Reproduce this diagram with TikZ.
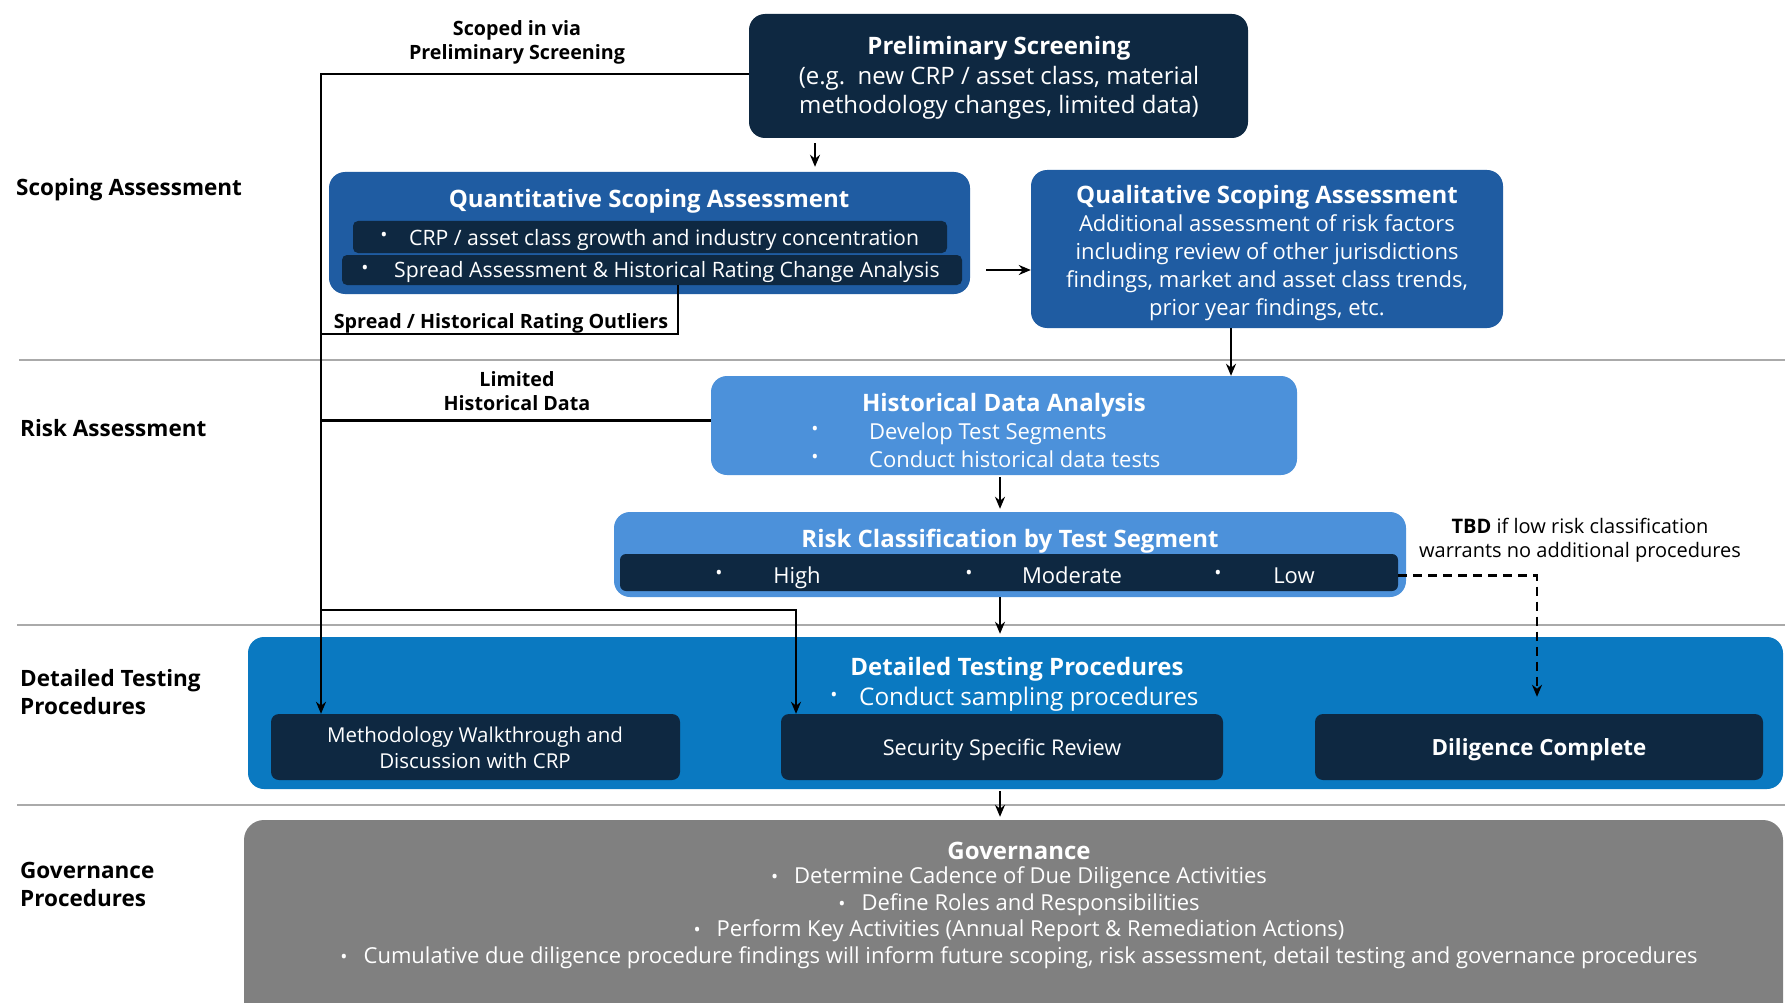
\documentclass[tikz,border=0pt]{standalone}
\usepackage{fontspec}
\setmainfont{Open Sans}
\usetikzlibrary{fit,arrows.meta,calc}
\definecolor{navy}{HTML}{0E2841}
\definecolor{midblue}{HTML}{1F5CA2}
\definecolor{ltblue}{HTML}{4C91DA}
\definecolor{dtblue}{HTML}{0A79C1}
\definecolor{govgray}{HTML}{808080}
\definecolor{sepgray}{HTML}{AAAAAA}
\newcommand\fT{\fontsize{24}{30}\selectfont\bfseries}
\newcommand\fB{\fontsize{22}{28}\selectfont}
\newcommand\fL{\fontsize{22.5}{28}\selectfont\bfseries}
\newcommand\fC{\fontsize{19.7}{24}\selectfont\bfseries}
\newcommand\bul{{\fontsize{19}{19}\selectfont\textbullet}}
\begin{document}
\begin{tikzpicture}[x=1pt,y=-1pt,
  box/.style={rounded corners=16pt, inner sep=0pt, draw=none},
  wt/.style={text=white, inner sep=0pt, align=center},
  one/.style={text height=0.72em, text depth=0.2em, yshift=-5pt},
  conn/.style={line width=2.4pt, black},
  arr/.style={conn, -{Stealth[length=12pt,width=10pt]}},
  dasharr/.style={arr, dash pattern=on 9pt off 6pt},
  sep/.style={line width=2pt, sepgray},
  lbl/.style={font=\fL, anchor=west, align=left, inner sep=0pt, text=black},
  clbl/.style={font=\fC, align=center, inner sep=0pt, text=black}]
\useasboundingbox (0,0) rectangle (1785,1003);
\fill[white] (0,0) rectangle (1785,1003);
\clip (0,0) rectangle (1785,1003);

% separators
\draw[sep] (19,360) -- (1785,360);
\draw[sep] (17,625) -- (1785,625);
\draw[sep] (17,805) -- (1785,805);

% left labels
\node[lbl, one] (lscope) at (16,188) {Scoping Assessment};
\node[lbl, one] (lrisk) at (20,429) {Risk Assessment};
\node[lbl] (ldet) at (20,692) {Detailed Testing\\Procedures};
\node[lbl] (lgov) at (20,884) {Governance\\Procedures};

% Preliminary screening
\node[box, fill=navy, fit={(749,14)(1248,138)}] (ps) {};
\node[wt, font=\fontsize{24}{29.6}\selectfont] (pstxt) at (999,78) {{\fT Preliminary Screening}\\(e.g.\ \ new CRP / asset class, material\\methodology changes, limited data)};

% Quantitative scoping
\node[box, fill=midblue, fit={(329,172)(970,294)}] (qsa) {};
\node[wt, one, font=\fT] (qsat) at (649,200) {Quantitative Scoping Assessment};
\node[box, rounded corners=5pt, fill=navy, fit={(353,221)(947,253)}] (bar1) {};
\node[box, rounded corners=5pt, fill=navy, fit={(342,255)(962,285)}] (bar2) {};
\node[wt] (b1b) at (384,237) {\bul};
\node[wt, one, font=\fontsize{21.2}{28}\selectfont, anchor=west] (b1t) at (409,238) {CRP / asset class growth and industry concentration};
\node[wt] (b2b) at (365,270) {\bul};
\node[wt, one, font=\fontsize{21.2}{28}\selectfont, anchor=west] (b2t) at (394,270) {Spread Assessment \& Historical Rating Change Analysis};

% Qualitative scoping
\node[box, fill=midblue, fit={(1031,170)(1503,328)}] (qual) {};
\node[wt, font=\fontsize{22}{27.9}\selectfont] (qualt) at (1267,253) {{\fT Qualitative Scoping Assessment}\\Additional assessment of risk factors\\including review of other jurisdictions\\findings, market and asset class trends,\\prior year findings, etc.};

% Historical data analysis
\node[box, fill=ltblue, fit={(711,376)(1297,475)}] (hda) {};
\node[wt, one, font=\fT] (hdat) at (1004,404) {Historical Data Analysis};
\node[wt] (hb1) at (815,431) {\bul};
\node[wt] (hb2) at (815,459) {\bul};
\node[wt, one, font=\fB, anchor=west] (ht1) at (869,432) {Develop Test Segments};
\node[wt, one, font=\fB, anchor=west] (ht2) at (869,460) {Conduct historical data tests};

% Risk classification
\node[box, fill=ltblue, fit={(614,512)(1406,597)}] (rc) {};
\node[wt, one, font=\fT] (rct) at (1010,540) {Risk Classification by Test Segment};
\node[box, rounded corners=6pt, fill=navy, fit={(620,554)(1398,591)}] (rcbar) {};
\node[wt] (rb1) at (719,575) {\bul};
\node[wt] (rb2) at (969,575) {\bul};
\node[wt] (rb3) at (1218,575) {\bul};
\node[wt, one, font=\fB] (rt1) at (797,576) {High};
\node[wt, one, font=\fB] (rt2) at (1072,576) {Moderate};
\node[wt, one, font=\fB] (rt3) at (1294,576) {Low};
\node[inner sep=0pt, align=center, font=\fontsize{20}{24}\selectfont] (tbd) at (1580,540) {\textbf{TBD} if low risk classification\\warrants no additional procedures};

% Detailed testing procedures
\node[box, fill=dtblue, fit={(248,637)(1783,789)}] (dtp) {};
\node[wt, one, font=\fT] (dtpt) at (1017,668) {Detailed Testing Procedures};
\node[wt] (db) at (834,697) {\bul};
\node[wt, one, font=\fontsize{24.3}{28}\selectfont, anchor=west] (dtpb) at (859,698) {Conduct sampling procedures};
\node[box, rounded corners=8pt, fill=navy, fit={(271,714)(680,780)}] (meth) {};
\node[wt, font=\fontsize{20.5}{25.5}\selectfont] (metht) at (475,748) {Methodology Walkthrough and\\Discussion with CRP};
\node[box, rounded corners=8pt, fill=navy, fit={(781,714)(1223,780)}] (ssr) {};
\node[wt, one, font=\fontsize{21.7}{27}\selectfont] (ssrt) at (1002,748) {Security Specific Review};
\node[box, rounded corners=8pt, fill=navy, fit={(1315,714)(1763,780)}] (dil) {};
\node[wt, one, font=\fontsize{22.3}{27}\selectfont\bfseries] (dilt) at (1539,748) {Diligence Complete};

% Governance
\node[box, rounded corners=20pt, fill=govgray, fit={(244,820)(1783,1040)}] (gov) {};
\node[wt, font=\fontsize{22}{26.5}\selectfont] (govt) at (1019,905) {{\fT Governance}\\[-2pt]
\bul\hspace{16pt}Determine Cadence of Due Diligence Activities\\
\bul\hspace{16pt}Define Roles and Responsibilities\\
\bul\hspace{16pt}Perform Key Activities (Annual Report \& Remediation Actions)\\
\bul\hspace{16pt}Cumulative due diligence procedure findings will inform future scoping, risk assessment, detail testing and governance procedures};

% connector labels
\node[clbl] (c1) at (517,42) {Scoped in via\\Preliminary Screening};
\node[clbl, one] (c2) at (501,321) {Spread / Historical Rating Outliers};
\node[clbl] (c3) at (517,391) {Limited\\Historical Data};

% connectors
\coordinate (jx) at (321,0);
\coordinate (ax) at (815,0);
\coordinate (cx) at (1231,0);
\coordinate (hx) at (1000,0);
\coordinate (sx) at (678,334);
\coordinate (bx) at (796,610);
\coordinate (dx) at (1537,0);
\coordinate (hl) at ([yshift=5pt]hda.west);
\coordinate (rl) at ([yshift=-3pt]rcbar.east);
\draw[arr] ([yshift=2pt]ps.west) -| (jx |- meth.north);
\draw[conn] (sx |- bar2.south) -- (sx) -- (jx |- sx);
\draw[conn] (hl) -- (jx |- hl);
\draw[arr] (jx |- bx) -- (bx) -- (bx |- ssr.north);
\draw[arr, shorten <=5pt, shorten >=5pt] (ax |- ps.south) -- (ax |- qsa.north);
\draw[arr, shorten <=16pt] (qsa.east |- bar2.east) -- (qual.west |- bar2.east);
\draw[arr] (cx |- qual.south) -- (cx |- hda.north);
\draw[arr, shorten <=2pt, shorten >=3pt] (hx |- hda.south) -- (hx |- rc.north);
\draw[arr, shorten >=3pt] (hx |- rc.south) -- (hx |- dtp.north);
\draw[arr, shorten <=2pt, shorten >=3pt] (hx |- dtp.south) -- (hx |- gov.north);
\draw[dasharr, shorten >=17pt] (rl) -- (dx |- rl) -- (dx |- dil.north);
\end{tikzpicture}
\end{document}
